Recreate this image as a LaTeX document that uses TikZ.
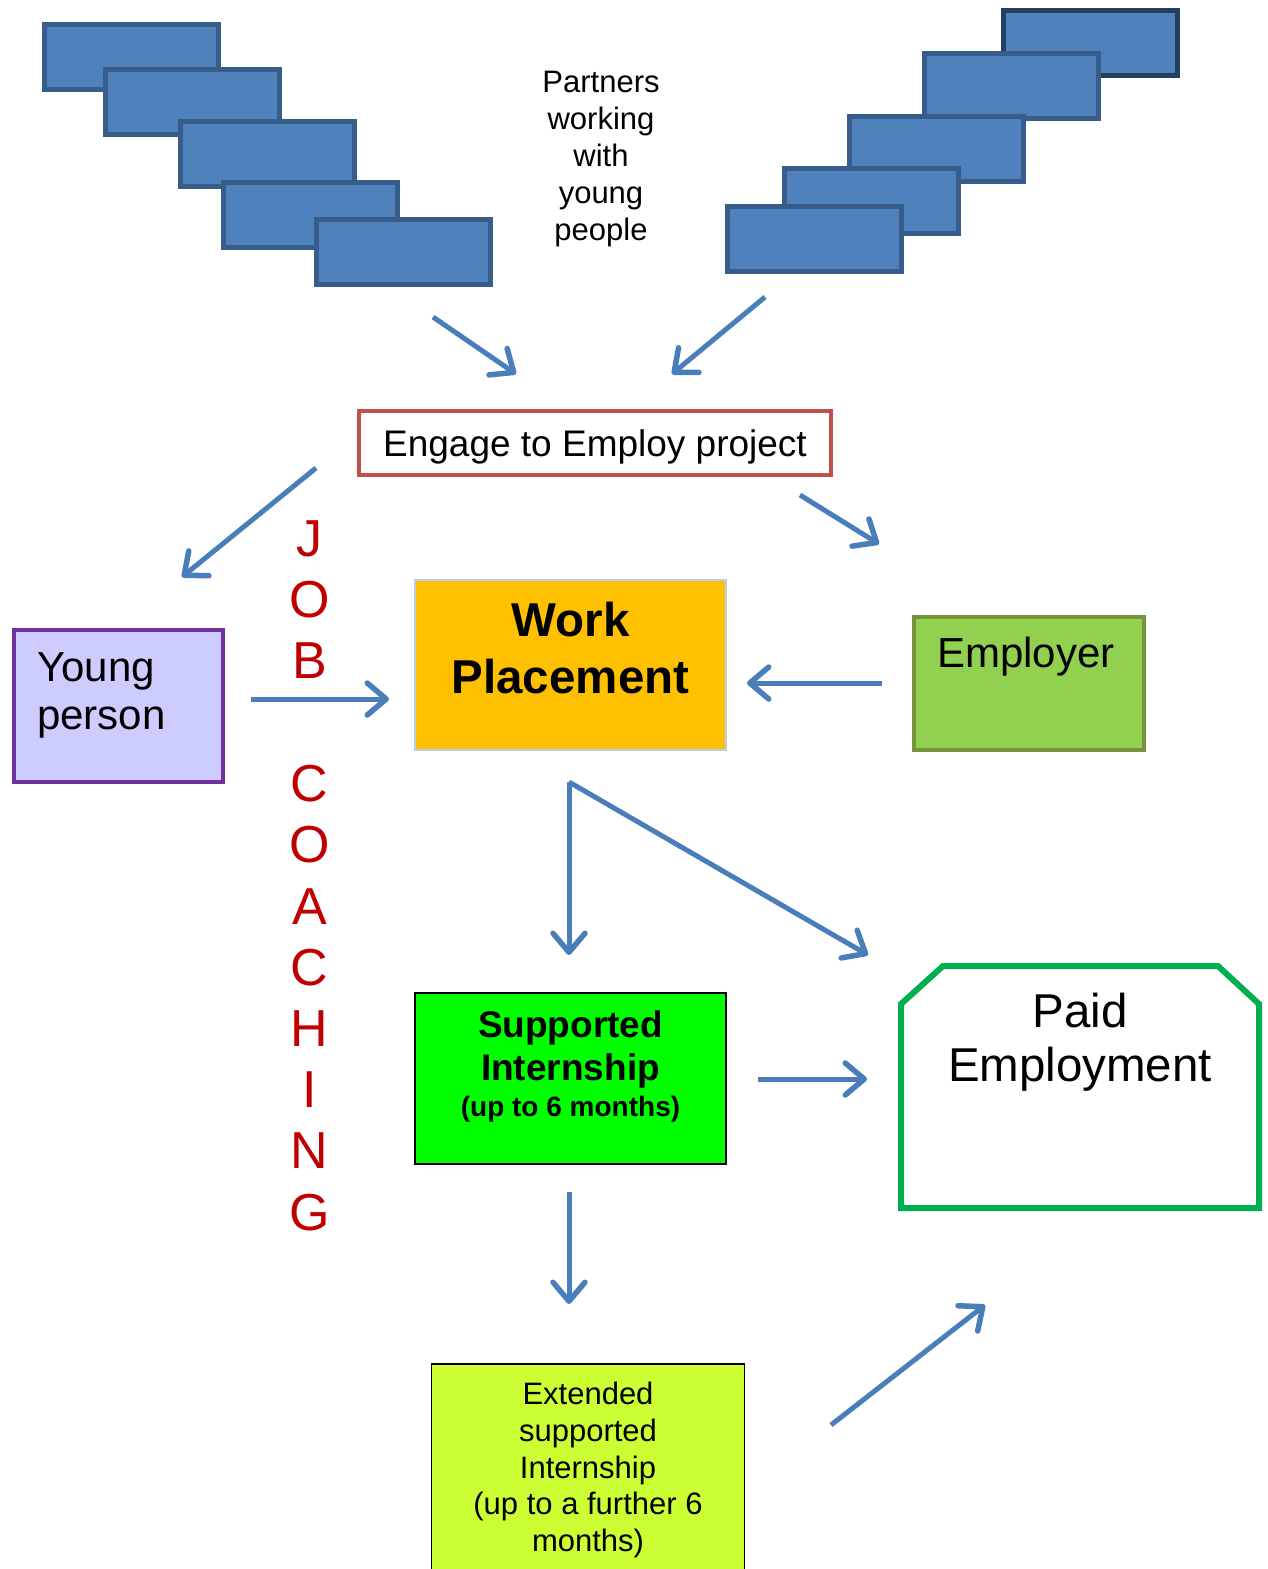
\documentclass[tikz,border=0pt]{standalone}
\usepackage{fontspec}
\setmainfont{Liberation Sans}
\usetikzlibrary{arrows.meta}

\definecolor{stepfill}{HTML}{4F81BD}
\definecolor{stepline}{HTML}{385D8A}
\definecolor{steptop}{HTML}{243F60}
\definecolor{flowblue}{HTML}{4A7EBB}
\definecolor{engred}{HTML}{C0504D}
\definecolor{wpfill}{HTML}{FFC000}
\definecolor{wpline}{HTML}{B9CDE5}
\definecolor{ypfill}{HTML}{CCCCFF}
\definecolor{ypline}{HTML}{7030A0}
\definecolor{empfill}{HTML}{92D050}
\definecolor{empline}{HTML}{77933C}
\definecolor{sifill}{HTML}{00FF00}
\definecolor{extfill}{HTML}{CCFF33}
\definecolor{paidline}{HTML}{00B050}
\definecolor{coachred}{HTML}{C00000}

\newcommand{\fsz}[2]{\fontsize{#1pt}{#2pt}\selectfont}

\tikzset{
  stepbox/.style={draw=stepline, fill=stepfill, line width=5pt,
    minimum width=174pt, minimum height=65pt, inner sep=0pt},
  flow/.style={draw=flowblue, line width=5pt,
    -{Straight Barb[length=19pt,width=32pt,round,line width=5.5pt]}},
  txt/.style={inner sep=0pt, align=center, text=black},
}

\begin{document}
\begin{tikzpicture}[x=1pt, y=-1pt]
\useasboundingbox (0,0) rectangle (1268,1569);

% left staircase of partner blocks
\node[stepbox] (l1) at (131.5,57) {};
\node[stepbox] (l2) at (192.5,101.5) {};
\node[stepbox] (l3) at (267.5,154) {};
\node[stepbox] (l4) at (310.5,215) {};
\node[stepbox] (l5) at (403.5,252) {};

% right staircase of partner blocks
\node[stepbox, draw=steptop] (r1) at (1090.5,42.5) {};
\node[stepbox] (r2) at (1011,85.5) {};
\node[stepbox] (r3) at (936.5,149) {};
\node[stepbox] (r4) at (871.5,200.5) {};
\node[stepbox] (r5) at (814.5,239) {};

\node[txt, font=\fsz{31}{37}] (partners) at (601,159)
  {Partners\\working\\with\\young\\people};

% project box
\node[draw=engred, line width=4pt, minimum width=472pt, minimum height=64pt,
      inner sep=0pt] (engage) at (595,443) {};
\node[txt, font=\fsz{37}{44}] (engtext) at (595,447) {Engage to Employ project};

% work placement
\node[draw=wpline, fill=wpfill, line width=2pt, minimum width=311pt,
      minimum height=170pt, inner sep=0pt] (wp) at (570.5,665) {};
\node[txt, font=\bfseries\fsz{47.5}{57}] (wptext) at (570.5,648)
  {Work\\Placement};

% young person
\node[draw=ypline, fill=ypfill, line width=4pt, minimum width=209pt,
      minimum height=152pt, inner sep=0pt] (yp) at (118.5,706) {};
\node[txt, align=left, anchor=west, font=\fsz{42}{48}] (yptext) at (37,695)
  {Young\\person};

% employer
\node[draw=empline, fill=empfill, line width=4pt, minimum width=230pt,
      minimum height=133pt, inner sep=0pt] (emp) at (1029,683.5) {};
\node[txt, font=\fsz{42}{48}] (emptext) at (1026,657) {Employer};

% supported internship
\node[draw=black, fill=sifill, line width=2pt, minimum width=311pt,
      minimum height=171pt, inner sep=0pt] (si) at (570.5,1078.5) {};
\node[txt, font=\bfseries\fsz{37}{43}] (sitext) at (570.5,1049)
  {Supported\\Internship};
\node[txt, font=\bfseries\fsz{28}{34}] (simonths) at (570.5,1109)
  {(up to 6 months)};

% paid employment
\draw[draw=paidline, line width=6pt, line join=miter]
  (901,1208) -- (901,1004) -- (943,966) -- (1218,966) -- (1259,1004)
  -- (1259,1208) -- cycle;
\node[txt, font=\fsz{47.5}{54}] (paid) at (1080,1042) {Paid\\Employment};

% extended supported internship
\node[draw=black, fill=extfill, line width=1.5pt, minimum width=313pt,
      minimum height=230pt, inner sep=0pt, anchor=north] (ext) at (588,1363) {};
\node[txt, font=\fsz{31}{36.8}] (exttext) at (588,1470)
  {Extended\\supported\\Internship\\(up to a further 6\\months)};

% job coaching column
\foreach \ch/\yy [count=\i] in {J/539,O/600,B/661,C/784,O/845,A/907,C/968,H/1029,I/1090,N/1151,G/1213}
  \node[inner sep=0pt, text=coachred, font=\fsz{52}{60}] (coach\i) at (309.5,\yy) {\ch};

% arrow end points
\coordinate (a1s) at (433,317);  \coordinate (a1e) at (516,374);
\coordinate (a2s) at (765,297);  \coordinate (a2e) at (672,374);
\coordinate (a3s) at (316,468);  \coordinate (a3e) at (182,577);
\coordinate (a4s) at (800,495);  \coordinate (a4e) at (879,544);
\coordinate (a5s) at (251,699);  \coordinate (a5e) at (389,699);
\coordinate (a6s) at (882,683);  \coordinate (a6e) at (747,683);
\coordinate (fork) at (569,782);
\coordinate (a7e) at (569,955);  \coordinate (a8e) at (868,955);
\coordinate (a9s) at (758,1079); \coordinate (a9e) at (867,1079);
\coordinate (a10s) at (569,1192); \coordinate (a10e) at (569,1304);
\coordinate (a11s) at (831,1425); \coordinate (a11e) at (985,1305);

\draw[flow] (a1s) -- (a1e);
\draw[flow] (a2s) -- (a2e);
\draw[flow] (a3s) -- (a3e);
\draw[flow] (a4s) -- (a4e);
\draw[flow] (a5s) -- (a5e);
\draw[flow] (a6s) -- (a6e);
\draw[flow] (fork) -- (a7e);
\draw[flow] (fork) -- (a8e);
\draw[flow] (a9s) -- (a9e);
\draw[flow] (a10s) -- (a10e);
\draw[flow] (a11s) -- (a11e);
\end{tikzpicture}
\end{document}
